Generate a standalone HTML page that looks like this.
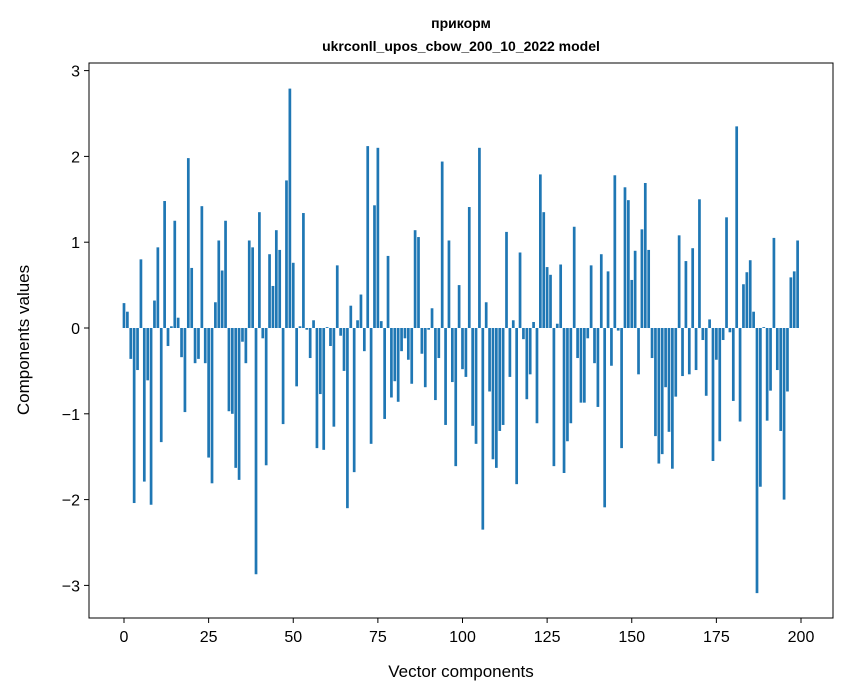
<!DOCTYPE html>
<html><head><meta charset="utf-8"><style>
body{margin:0;background:#fff}
svg{display:block;font-family:"Liberation Sans","DejaVu Sans",sans-serif}
</style></head><body>
<svg id="chart" width="847" height="696" viewBox="0 0 847 696">
<rect width="847" height="696" fill="#fff"/>
<text x="461" y="28" text-anchor="middle" font-size="14" font-weight="bold">прикорм</text>
<text x="461" y="51" text-anchor="middle" font-size="14" font-weight="bold">ukrconll_upos_cbow_200_10_2022 model</text>
<g id="bars"></g>
<g id="xticks"></g>
<g id="yticks"></g>
<rect x="89" y="63" width="744" height="555" fill="none" stroke="#000" stroke-width="1"/>
<text x="461" y="677" text-anchor="middle" font-size="17">Vector components</text>
<text transform="translate(29,340) rotate(-90)" text-anchor="middle" font-size="17">Components values</text>
</svg>
<script>
const values = [0.29,0.19,-0.36,-2.04,-0.49,0.80,-1.79,-0.61,-2.06,0.32,0.94,-1.33,1.48,-0.21,0.02,1.25,0.12,-0.34,-0.98,1.98,0.70,-0.41,-0.36,1.42,-0.41,-1.51,-1.81,0.30,1.02,0.67,1.25,-0.97,-1.00,-1.63,-1.77,-0.16,-0.41,1.02,0.94,-2.87,1.35,-0.12,-1.60,0.86,0.49,1.14,0.91,-1.12,1.72,2.79,0.76,-0.68,0.02,1.34,-0.02,-0.35,0.09,-1.40,-0.77,-1.42,0.01,-0.21,-1.15,0.73,-0.09,-0.50,-2.10,0.26,-1.68,0.09,0.39,-0.27,2.12,-1.35,1.43,2.10,0.08,-1.06,0.84,-0.81,-0.62,-0.86,-0.27,-0.12,-0.37,-0.65,1.14,1.06,-0.30,-0.69,-0.02,0.23,-0.84,-0.35,1.94,-1.13,1.02,-0.63,-1.61,0.50,-0.48,-0.57,1.41,-1.14,-1.35,2.10,-2.35,0.30,-0.74,-1.53,-1.63,-1.20,-1.13,1.12,-0.57,0.09,-1.82,0.88,-0.13,-0.83,-0.54,0.07,-1.11,1.79,1.35,0.71,0.62,-1.61,0.05,0.74,-1.69,-1.32,-1.11,1.18,-0.35,-0.87,-0.87,-0.12,0.73,-0.41,-0.92,0.86,-2.09,0.66,-0.44,1.78,-0.03,-1.40,1.64,1.49,0.56,0.90,-0.54,1.15,1.69,0.91,-0.35,-1.26,-1.58,-1.47,-0.69,-1.21,-1.64,-0.80,1.08,-0.56,0.78,-0.54,0.93,-0.49,1.50,-0.14,-0.79,0.10,-1.55,-0.37,-1.32,-0.14,1.29,-0.05,-0.85,2.35,-1.09,0.51,0.65,0.79,0.19,-3.09,-1.85,0.01,-1.08,-0.73,1.05,-0.49,-1.20,-2.00,-0.74,0.59,0.66,1.02];
const xTicks = [0,25,50,75,100,125,150,175,200];
const yTicks = [-3,-2,-1,0,1,2,3];
const NS = "http://www.w3.org/2000/svg";
const xs = v => 124 + v * 3.385;
const ys = v => 328 - v * 85.8;
const bars = document.getElementById('bars');
values.forEach((v, i) => {
  const r = document.createElementNS(NS, 'rect');
  const y0 = ys(Math.max(v, 0)), y1 = ys(Math.min(v, 0));
  r.setAttribute('x', xs(i - 0.4));
  r.setAttribute('width', 3.385 * 0.8);
  r.setAttribute('y', y0);
  r.setAttribute('height', Math.max(y1 - y0, 0.3));
  r.setAttribute('fill', '#1f77b4');
  
  
  bars.appendChild(r);
});
const xg = document.getElementById('xticks');
xTicks.forEach(t => {
  const l = document.createElementNS(NS, 'line');
  l.setAttribute('x1', xs(t)); l.setAttribute('x2', xs(t));
  l.setAttribute('y1', 618); l.setAttribute('y2', 623);
  l.setAttribute('stroke', '#000');
  
  
  xg.appendChild(l);
  const tx = document.createElementNS(NS, 'text');
  tx.setAttribute('x', xs(t)); tx.setAttribute('y', 642);
  tx.setAttribute('text-anchor', 'middle'); tx.setAttribute('font-size', '16');
  tx.textContent = t;
  
  
  xg.appendChild(tx);
});
const yg = document.getElementById('yticks');
yTicks.forEach(t => {
  const l = document.createElementNS(NS, 'line');
  l.setAttribute('x1', 84); l.setAttribute('x2', 89);
  l.setAttribute('y1', ys(t)); l.setAttribute('y2', ys(t));
  l.setAttribute('stroke', '#000');
  
  
  yg.appendChild(l);
  const tx = document.createElementNS(NS, 'text');
  tx.setAttribute('x', 80); tx.setAttribute('y', ys(t) + 6);
  tx.setAttribute('text-anchor', 'end'); tx.setAttribute('font-size', '16');
  tx.textContent = t < 0 ? '\u2212' + Math.abs(t) : String(t);
  
  
  yg.appendChild(tx);
});
</script>
</body></html>
